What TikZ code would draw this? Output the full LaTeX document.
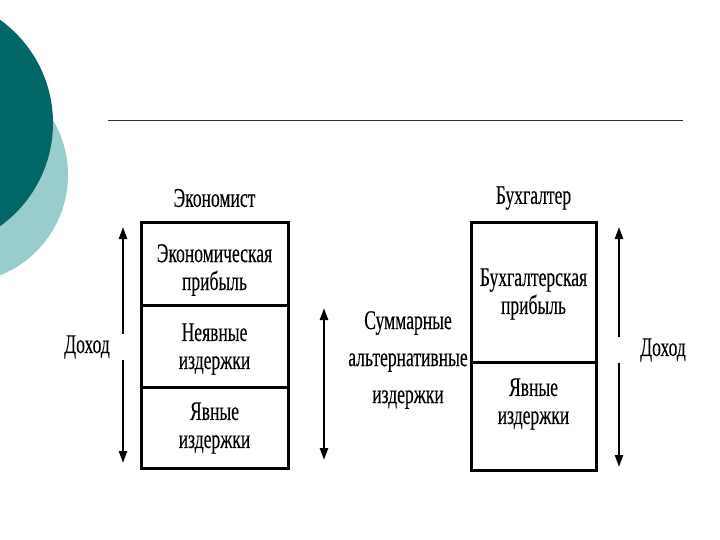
\documentclass[tikz,border=0pt]{standalone}
\usepackage{fontspec}
\setmainfont{Liberation Serif}[FakeBold=0.3]
\usetikzlibrary{positioning, arrows.meta}
\definecolor{tealdark}{HTML}{006666}
\definecolor{teallight}{HTML}{99CCCC}
\definecolor{rulegray}{HTML}{333333}

\begin{document}
\begin{tikzpicture}[
    x=1pt, y=-1pt,
    node distance=0pt,
    cell/.style={rectangle, draw=black, line width=3pt, outer sep=0pt,
                 inner sep=0pt},
    txt/.style={align=center, inner sep=1pt, xscale=0.65,
                font=\fontsize{27}{28}\selectfont},
    wide/.style={txt, font=\fontsize{27}{37}\selectfont},
    arrow/.style={-{Triangle[length=12pt, width=8pt]}, line width=2.4pt},
    both/.style={{Triangle[length=12pt, width=8pt]}-{Triangle[length=12pt, width=8pt]}, line width=2.4pt}
  ]
    \clip (0,0) rectangle (720,540);
    \fill[white] (0,0) rectangle (720,540);

    % slide decoration
    \fill[teallight] (-40,175) circle (108);
    \fill[tealdark] (-74,123) circle (127);
    \draw[line width=0.8pt, rulegray] (108,120) -- (683,120);

    % economist column
    \node[cell, minimum width=147, minimum height=82] (ep) at (214.5,264) {};
    \node[cell, minimum width=147, minimum height=82, below=of ep] (ni) {};
    \node[cell, minimum width=147, minimum height=81, below=of ni] (yl) {};
    \node[txt] (econ) at (214.5,198) {Экономист};
    \node[txt] (tep) at (214.5,270) {Экономическая\\прибыль};
    \node[txt] (tni) at (214.5,349) {Неявные\\издержки};
    \node[txt] (tyl) at (214.5,428) {Явные\\издержки};

    % accountant column
    \node[cell, minimum width=125, minimum height=139] (bp) at (533.5,292.5) {};
    \node[cell, minimum width=125, minimum height=108, below=of bp] (yr) {};
    \node[txt] (buh) at (533.5,198) {Бухгалтер};
    \node[txt] (tbp) at (533.5,294) {Бухгалтерская\\прибыль};
    \node[txt] (tyr) at (533.5,404) {Явные\\издержки};

    % left income
    \coordinate (lt) at (123,227);
    \coordinate (lb) at (123,463);
    \node[txt] (dl) at (87,347) {Доход};
    \draw[arrow] (lt |- dl.north) -- (lt);
    \draw[arrow] (lt |- dl.south) -- (lb);

    % total opportunity costs
    \coordinate (mt) at (324,308);
    \coordinate (mb) at (324,460);
    \draw[both] (mt) -- (mb);
    \node[wide] (sum) at (408,360) {Суммарные\\альтернативные\\издержки};

    % right income
    \coordinate (rt) at (619,227);
    \coordinate (rb) at (619,467);
    \node[txt] (dr) at (663,350) {Доход};
    \draw[arrow] (rt |- dr.north) -- (rt);
    \draw[arrow] (rt |- dr.south) -- (rb);
\end{tikzpicture}
\end{document}
